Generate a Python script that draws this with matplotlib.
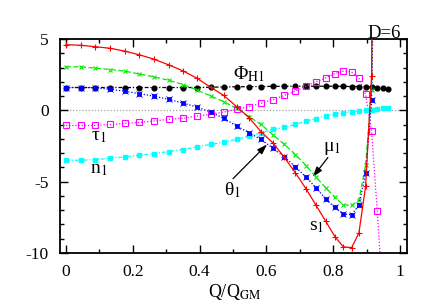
import matplotlib
matplotlib.use("Agg")
import matplotlib.pyplot as plt
from matplotlib.ticker import MultipleLocator

plt.rcParams['font.family'] = ['Liberation Serif', 'DejaVu Serif']
plt.rcParams['mathtext.fontset'] = 'stix'

# common Q grid (Q/Q_GM)
q = [0.0, 0.044, 0.088, 0.132, 0.176, 0.220, 0.263, 0.307, 0.350, 0.392,
     0.433, 0.472, 0.511, 0.548, 0.584, 0.619, 0.654, 0.687, 0.719, 0.749,
     0.778, 0.805, 0.830, 0.855, 0.877, 0.897, 0.915, 0.932, 0.948, 0.963]

s1_q = q[:27] + [0.930]
s1 = [4.60, 4.56, 4.46, 4.35, 4.15, 3.89, 3.59, 3.19, 2.77, 2.25,
      1.62, 1.05, 0.26, -0.51, -1.50, -2.27, -3.30, -4.39, -5.51, -6.67,
      -7.79, -8.85, -9.56, -9.63, -8.60, -5.33, 2.42, 60.0]

mu1_q = q[:27] + [0.932]
mu1 = [3.05, 3.05, 2.96, 2.86, 2.75, 2.54, 2.35, 2.11, 1.81, 1.43,
       1.01, 0.61, 0.14, -0.44, -0.99, -1.70, -2.39, -3.10, -3.87, -4.69,
       -5.44, -6.10, -6.62, -6.67, -6.30, -3.85, 1.40, 40.0]

th1_q = q[:27] + [0.935]
th1 = [1.60, 1.60, 1.58, 1.48, 1.34, 1.17, 0.99, 0.77, 0.51, 0.23,
       -0.12, -0.56, -1.10, -1.57, -2.04, -2.65, -3.26, -3.96, -4.69, -5.44,
       -6.22, -6.81, -7.25, -7.32, -6.65, -4.42, 0.70, 30.0]

phi_q = q
phi = [1.60, 1.60, 1.60, 1.60, 1.60, 1.60, 1.60, 1.60, 1.60, 1.60,
       1.62, 1.64, 1.65, 1.66, 1.67, 1.68, 1.68, 1.69, 1.69, 1.69,
       1.69, 1.69, 1.68, 1.67, 1.67, 1.66, 1.65, 1.60, 1.55, 1.48]

tau1_q = q[:29]
tau1 = [-1.06, -1.06, -1.06, -0.99, -0.92, -0.85, -0.75, -0.63, -0.55, -0.40,
        -0.28, -0.12, 0.07, 0.26, 0.50, 0.75, 1.05, 1.35, 1.70, 2.00,
        2.28, 2.58, 2.75, 2.68, 2.25, 1.13, -1.48, -7.09, -13.0]

n1_q = q
n1 = [-3.50, -3.50, -3.45, -3.36, -3.26, -3.15, -3.03, -2.89, -2.75, -2.56,
      -2.39, -2.23, -2.04, -1.81, -1.57, -1.34, -1.20, -0.99, -0.75, -0.58,
      -0.38, -0.25, -0.17, -0.10, -0.05, 0.00, 0.05, 0.10, 0.14, 0.18]

fig = plt.figure(figsize=(4.36, 3.05), dpi=100)
ax = fig.add_axes([60/436, 1-253/305, 347/436, 214/305])

ax.axhline(0, color='#a0a0a0', lw=0.9, ls=(0, (1, 1.5)), zorder=1)

ax.plot(s1_q, s1, color='#ff0000', lw=0.9, ls='-', marker='+', ms=4.5, mew=0.8, zorder=5)
ax.plot(mu1_q, mu1, color='#00ee00', lw=0.9, ls=(0, (4, 2)), marker='x', ms=3.5, mew=0.8, zorder=4)
ax.plot(th1_q, th1, color='#0000ff', lw=0.9, ls=(0, (1, 1.5)), marker='s', ms=2.8, mew=0.5, zorder=4)
ax.plot(th1_q, th1, color='#0000ff', lw=0, marker='x', ms=3.8, mew=0.6, zorder=4)
ax.plot(phi_q, phi, color='#000000', lw=0.9, ls=(0, (3, 1.5, 1, 1.5)), marker='o', ms=3.4, zorder=3)
ax.plot(tau1_q, tau1, color='#ff00ff', lw=0.9, ls=(0, (1, 1.5)), marker='s', ms=4.0, mfc='none', mew=0.8, zorder=3)
ax.plot(n1_q, n1, color='#00ffff', lw=0.9, ls=(0, (3, 1.5, 1, 1.5)), marker='s', ms=3.2, zorder=3)

ax.set_xlim(-0.018, 1.021)
ax.set_ylim(-10, 5)
ax.xaxis.set_minor_locator(MultipleLocator(0.1))
ax.yaxis.set_minor_locator(MultipleLocator(1))
ax.set_xticks([0, 0.2, 0.4, 0.6, 0.8, 1.0])
ax.set_xticklabels(['0', '0.2', '0.4', '0.6', '0.8', '1'])
ax.set_yticks([5, 0, -5, -10])
ax.set_yticklabels(['5', '0', '-5', '-10'])
ax.tick_params(which='both', direction='in', top=True, right=True, labelsize=12.5, width=1.0)
ax.tick_params(which='major', length=6, pad=8)
ax.tick_params(which='minor', length=3)
for sp in ax.spines.values():
    sp.set_linewidth(1.3)

fs = 14
ax.text(0.548, 2.54, r'Φ$_{\mathrm{H1}}$', fontsize=fs, ha='center', va='center')
ax.text(0.099, -1.83, r'τ$_1$', fontsize=fs, ha='center', va='center')
ax.text(0.099, -4.15, r'n$_1$', fontsize=fs, ha='center', va='center')
ax.text(0.749, -8.17, r's$_1$', fontsize=fs, ha='center', va='center')
ax.text(0.5, -5.56, r'θ$_1$', fontsize=fs, ha='center', va='center')
ax.text(0.796, -2.68, r'μ$_1$', fontsize=fs, ha='center', va='center')
ap = dict(arrowstyle='-|>,head_length=0.6,head_width=0.2', color='k', lw=0.9,
          mutation_scale=10, shrinkA=0, shrinkB=0)
ax.annotate('', xy=(0.602, -2.39), xytext=(0.5, -4.79), arrowprops=ap)
ax.annotate('', xy=(0.739, -4.67), xytext=(0.784, -3.31), arrowprops=ap)

fig.text(401/436, 1-34/305, 'D=6', fontsize=13.5, ha='right', va='center')
fig.text(235/436, 1-292/305, r'Q/Q$_{\mathrm{GM}}$', fontsize=13, ha='center', va='center')

fig.savefig('out.png', dpi=100)
